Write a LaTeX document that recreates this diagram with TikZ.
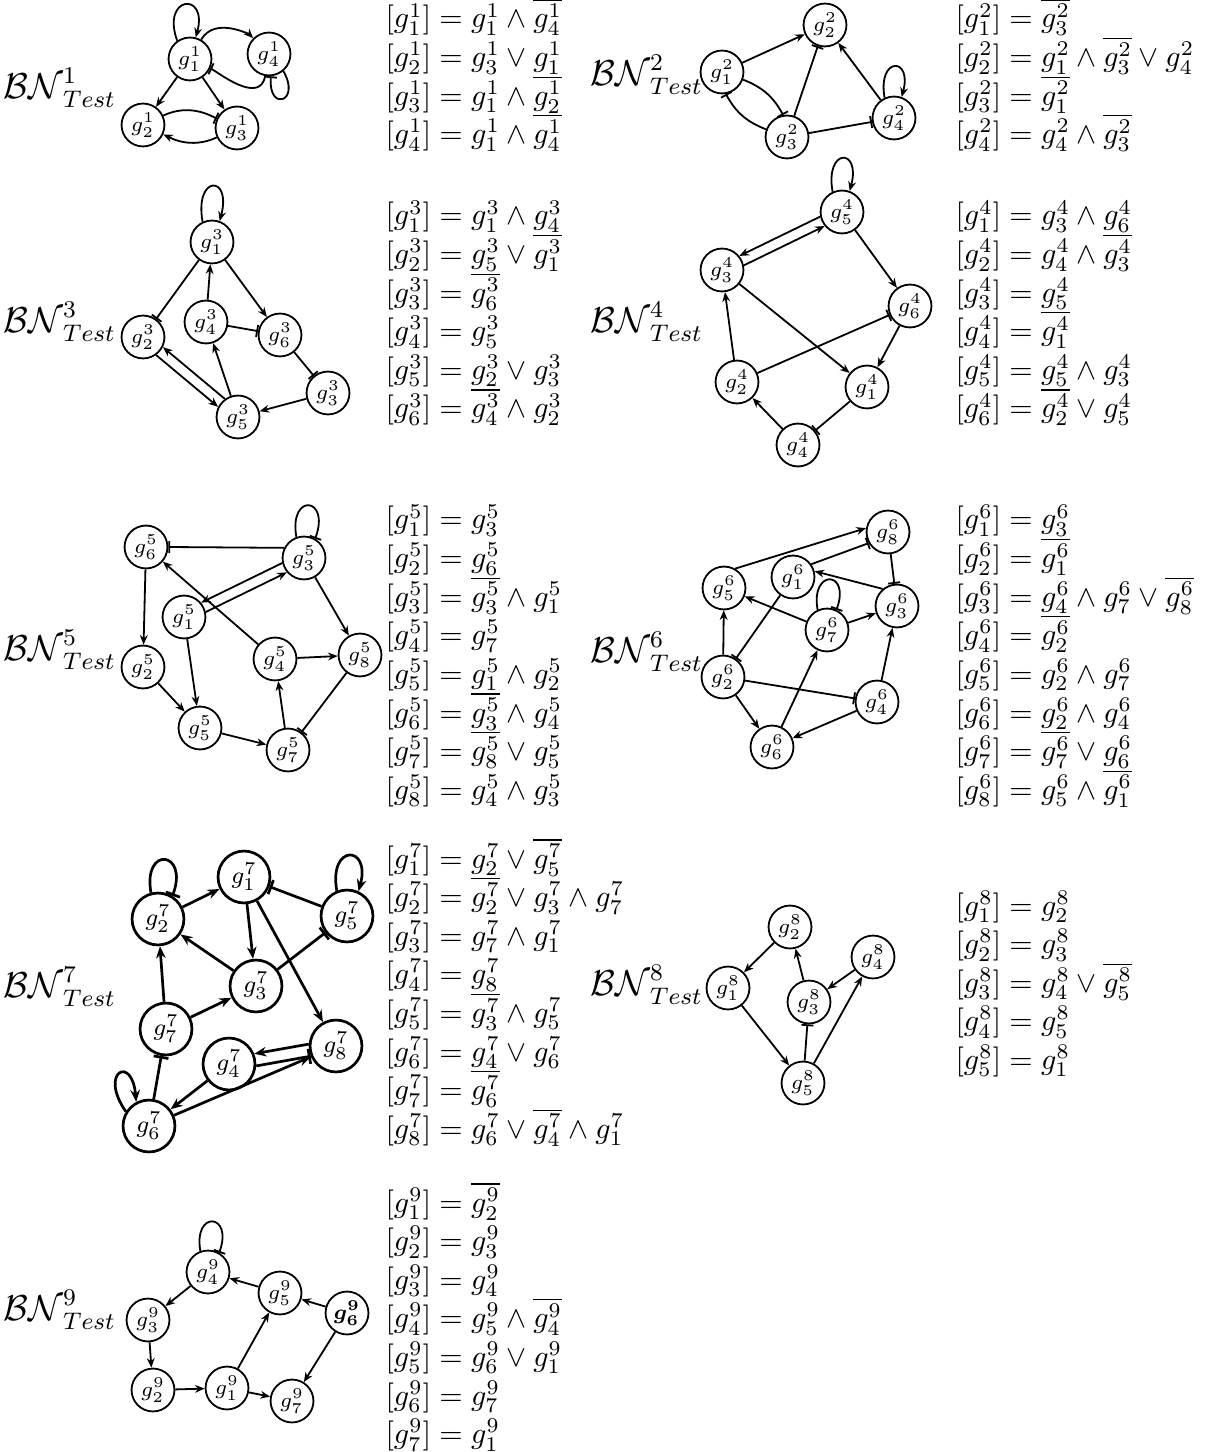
\documentclass[tikz,border=0pt]{standalone}
\usepackage{amsmath}
\usepackage{tikz}
\usetikzlibrary{arrows.meta}

\tikzset{
  gene/.style={circle, draw, line width=0.6pt, minimum size=14.3pt, inner sep=0pt, font=\scriptsize},
  biggene/.style={gene, line width=0.9pt, minimum size=17.3pt, font=\footnotesize},
  act/.style={-{Stealth[length=3.2pt, width=2.6pt]}, line width=0.6pt},
  inh/.style={-{Bar[width=4pt]}, line width=0.6pt},
  bigact/.style={-{Stealth[length=4pt, width=3.2pt]}, line width=0.9pt},
  biginh/.style={-{Bar[width=5pt]}, line width=0.9pt},
  eqn/.style={anchor=base west, inner sep=0pt},
  bnlabel/.style={anchor=west, inner sep=0pt, font=\large},
}

\begin{document}
\begin{tikzpicture}[x=0.33333pt, y=0.33333pt]
  \useasboundingbox (0,0) rectangle (1205,-1452);

  % BN 1
  \begin{scope}[name prefix=bnA-]
    \node[bnlabel] (lbl) at (3,-88) {$\mathcal{BN}^{1}_{Test}$};
    \node[gene] (g1) at (190,-59) {$g_1^1$};
    \node[gene] (g4) at (269,-54) {$g_4^1$};
    \node[gene] (g2) at (143,-125) {$g_2^1$};
    \node[gene] (g3) at (237,-128) {$g_3^1$};
    \draw[act] (g1.125) to[out=110, in=75, distance=16pt] (g1.75);
    \draw[act] (g1) to[out=60, in=135] (g4);
    \draw[inh] (g4) to[out=-100, in=-25] (g1);
    \draw[inh] (g4.-50) to[out=-60, in=-95, distance=12pt] (g4.-85);
    \draw[act] (g1) -- (g2);
    \draw[act] (g1) -- (g3);
    \draw[inh] (g2) to[out=25, in=155] (g3);
    \draw[act] (g3) to[out=-155, in=-25] (g2);
    \foreach \eq [count=\r from 0] in {
      {[g_1^1] = g_1^1 \wedge \overline{g_4^1}},
      {[g_2^1] = g_3^1 \vee g_1^1},
      {[g_3^1] = g_1^1 \wedge \overline{g_2^1}},
      {[g_4^1] = g_1^1 \wedge \overline{g_4^1}}}
      \node[eqn] (e\r) at (385,{-(28+38.6*\r)}) {$\eq$};
  \end{scope}

  % BN 2
  \begin{scope}[name prefix=bnB-]
    \node[bnlabel] (lbl) at (590,-75) {$\mathcal{BN}^{2}_{Test}$};
    \node[gene] (g1) at (722,-72) {$g_1^2$};
    \node[gene] (g2) at (825,-25) {$g_2^2$};
    \node[gene] (g3) at (787,-137) {$g_3^2$};
    \node[gene] (g4) at (894,-118) {$g_4^2$};
    \draw[act] (g1) -- (g2);
    \draw[inh] (g3) -- (g2);
    \draw[act] (g4) -- (g2);
    \draw[act] (g4.115) to[out=100, in=75, distance=14pt] (g4.70);
    \draw[inh] (g3) -- (g4);
    \draw[inh] (g1.-20) to[bend left=20] (g3.100);
    \draw[inh] (g3.160) to[bend left=20] (g1.-80);
    \foreach \eq [count=\r from 0] in {
      {[g_1^2] = \overline{g_3^2}},
      {[g_2^2] = g_1^2 \wedge \overline{g_3^2} \vee g_4^2},
      {[g_3^2] = \overline{g_1^2}},
      {[g_4^2] = g_4^2 \wedge \overline{g_3^2}}}
      \node[eqn] (e\r) at (955,{-(28+38.6*\r)}) {$\eq$};
  \end{scope}

  % BN 3
  \begin{scope}[name prefix=bnC-]
    \node[bnlabel] (lbl) at (3,-322) {$\mathcal{BN}^{3}_{Test}$};
    \node[gene] (g1) at (212,-242) {$g_1^3$};
    \node[gene] (g2) at (143,-337) {$g_2^3$};
    \node[gene] (g4) at (206,-322) {$g_4^3$};
    \node[gene] (g6) at (280,-335) {$g_6^3$};
    \node[gene] (g3) at (328,-393) {$g_3^3$};
    \node[gene] (g5) at (238,-417) {$g_5^3$};
    \draw[act] (g1.115) to[out=100, in=75, distance=16pt] (g1.70);
    \draw[inh] (g1) -- (g2);
    \draw[act] (g4) -- (g1);
    \draw[act] (g1) -- (g6);
    \draw[inh] (g4) -- (g6);
    \draw[inh] (g6) -- (g3);
    \draw[act] (g3) -- (g5);
    \draw[act] (g5) -- (g4);
    \draw[act] (g5.126) -- (g2.-27);
    \draw[act] (g2.-54) -- (g5.153);
    \foreach \eq [count=\r from 0] in {
      {[g_1^3] = g_1^3 \wedge g_4^3},
      {[g_2^3] = g_5^3 \vee \overline{g_1^3}},
      {[g_3^3] = \overline{g_6^3}},
      {[g_4^3] = g_5^3},
      {[g_5^3] = g_2^3 \vee g_3^3},
      {[g_6^3] = \overline{g_4^3} \wedge g_2^3}}
      \node[eqn] (e\r) at (385,{-(225+38.6*\r)}) {$\eq$};
  \end{scope}

  % BN 4
  \begin{scope}[name prefix=bnD-]
    \node[bnlabel] (lbl) at (590,-322) {$\mathcal{BN}^{4}_{Test}$};
    \node[gene] (g5) at (842,-212) {$g_5^4$};
    \node[gene] (g3) at (722,-270) {$g_3^4$};
    \node[gene] (g6) at (910,-306) {$g_6^4$};
    \node[gene] (g2) at (737,-382) {$g_2^4$};
    \node[gene] (g1) at (867,-387) {$g_1^4$};
    \node[gene] (g4) at (798,-445) {$g_4^4$};
    \draw[act] (g5.115) to[out=100, in=75, distance=15pt] (g5.70);
    \draw[act] (g5.192) -- (g3.39);
    \draw[act] (g3.12) -- (g5.219);
    \draw[act] (g5) -- (g6);
    \draw[act] (g3) -- (g1);
    \draw[act] (g2) -- (g3);
    \draw[inh] (g2) -- (g6);
    \draw[act] (g6) -- (g1);
    \draw[inh] (g1) -- (g4);
    \draw[act] (g4) -- (g2);
    \foreach \eq [count=\r from 0] in {
      {[g_1^4] = g_3^4 \wedge g_6^4},
      {[g_2^4] = g_4^4 \wedge \overline{g_3^4}},
      {[g_3^4] = g_5^4},
      {[g_4^4] = \overline{g_1^4}},
      {[g_5^4] = g_5^4 \wedge g_3^4},
      {[g_6^4] = \overline{g_2^4} \vee g_5^4}}
      \node[eqn] (e\r) at (955,{-(225+38.6*\r)}) {$\eq$};
  \end{scope}

  % BN 5
  \begin{scope}[name prefix=bnE-]
    \node[bnlabel] (lbl) at (3,-650) {$\mathcal{BN}^{5}_{Test}$};
    \node[gene] (g6) at (146,-547) {$g_6^5$};
    \node[gene] (g3) at (304,-558) {$g_3^5$};
    \node[gene] (g1) at (184,-617) {$g_1^5$};
    \node[gene] (g2) at (143,-667) {$g_2^5$};
    \node[gene] (g4) at (275,-659) {$g_4^5$};
    \node[gene] (g8) at (360,-655) {$g_8^5$};
    \node[gene] (g5) at (200,-728) {$g_5^5$};
    \node[gene] (g7) at (288,-750) {$g_7^5$};
    \draw[inh] (g3.110) to[out=100, in=70, distance=15pt] (g3.60);
    \draw[inh] (g3.153) -- (g6.east);
    \draw[act] (g3.193) -- (g1.40);
    \draw[act] (g1.13) -- (g3.220);
    \draw[act] (g3) -- (g8);
    \draw[act] (g6) -- (g2);
    \draw[act] (g4) -- (g6);
    \draw[act] (g1) -- (g5);
    \draw[act] (g2) -- (g5);
    \draw[act] (g4) -- (g8);
    \draw[inh] (g8) -- (g7);
    \draw[act] (g5) -- (g7);
    \draw[act] (g7) -- (g4);
    \foreach \eq [count=\r from 0] in {
      {[g_1^5] = g_3^5},
      {[g_2^5] = g_6^5},
      {[g_3^5] = \overline{g_3^5} \wedge g_1^5},
      {[g_4^5] = g_7^5},
      {[g_5^5] = g_1^5 \wedge g_2^5},
      {[g_6^5] = \overline{g_3^5} \wedge g_4^5},
      {[g_7^5] = \overline{g_8^5} \vee g_5^5},
      {[g_8^5] = g_4^5 \wedge g_3^5}}
      \node[eqn] (e\r) at (385,{-(529+38.6*\r)}) {$\eq$};
  \end{scope}

  % BN 6
  \begin{scope}[name prefix=bnF-]
    \node[bnlabel] (lbl) at (590,-652) {$\mathcal{BN}^{6}_{Test}$};
    \node[gene] (g8) at (888,-532) {$g_8^6$};
    \node[gene] (g1) at (793,-577) {$g_1^6$};
    \node[gene] (g5) at (724,-588) {$g_5^6$};
    \node[gene] (g3) at (897,-606) {$g_3^6$};
    \node[gene] (g7) at (827,-630) {$g_7^6$};
    \node[gene] (g2) at (723,-677) {$g_2^6$};
    \node[gene] (g4) at (877,-702) {$g_4^6$};
    \node[gene] (g6) at (772,-747) {$g_6^6$};
    \draw[act] (g5.60) -- (g8.170);
    \draw[inh] (g1.35) -- (g8.210);
    \draw[inh] (g8) -- (g3);
    \draw[act] (g3.130) -- (g1.15);
    \draw[inh] (g7.115) to[out=100, in=70, distance=14pt] (g7.65);
    \draw[act] (g7) -- (g5);
    \draw[act] (g7) -- (g3);
    \draw[inh] (g1) -- (g2);
    \draw[act] (g2) -- (g5);
    \draw[act] (g6) -- (g7);
    \draw[inh] (g2) -- (g4);
    \draw[act] (g2) -- (g6);
    \draw[act] (g4) -- (g6);
    \draw[act] (g4) -- (g3);
    \foreach \eq [count=\r from 0] in {
      {[g_1^6] = g_3^6},
      {[g_2^6] = \overline{g_1^6}},
      {[g_3^6] = g_4^6 \wedge g_7^6 \vee \overline{g_8^6}},
      {[g_4^6] = \overline{g_2^6}},
      {[g_5^6] = g_2^6 \wedge g_7^6},
      {[g_6^6] = g_2^6 \wedge g_4^6},
      {[g_7^6] = \overline{g_7^6} \vee g_6^6},
      {[g_8^6] = g_5^6 \wedge \overline{g_1^6}}}
      \node[eqn] (e\r) at (955,{-(529+38.6*\r)}) {$\eq$};
  \end{scope}

  % BN 7
  \begin{scope}[name prefix=bnG-]
    \node[bnlabel] (lbl) at (3,-987) {$\mathcal{BN}^{7}_{Test}$};
    \node[biggene] (g1) at (244,-877) {$g_1^7$};
    \node[biggene] (g2) at (158,-919) {$g_2^7$};
    \node[biggene] (g5) at (347,-916) {$g_5^7$};
    \node[biggene] (g3) at (256,-986) {$g_3^7$};
    \node[biggene] (g7) at (166,-1029) {$g_7^7$};
    \node[biggene] (g8) at (336,-1046) {$g_8^7$};
    \node[biggene] (g4) at (229,-1064) {$g_4^7$};
    \node[biggene] (g6) at (149,-1126) {$g_6^7$};
    \draw[biginh] (g2.105) to[out=100, in=70, distance=16pt] (g2.58);
    \draw[bigact] (g2) -- (g1);
    \draw[biginh] (g5) -- (g1);
    \draw[bigact] (g5.112) to[out=100, in=75, distance=16pt] (g5.65);
    \draw[bigact] (g1) -- (g3);
    \draw[bigact] (g1) -- (g8);
    \draw[bigact] (g3) -- (g2);
    \draw[biginh] (g3) -- (g5);
    \draw[bigact] (g7) -- (g2);
    \draw[bigact] (g7) -- (g3);
    \draw[bigact] (g8.176) -- (g4.22);
    \draw[biginh] (g4.-4) -- (g8.202);
    \draw[bigact] (g4) -- (g6);
    \draw[bigact] (g6) -- (g8);
    \draw[biginh] (g6) -- (g7);
    \draw[bigact] (g6.148) to[out=125, in=95, distance=16pt] (g6.118);
    \foreach \eq [count=\r from 0] in {
      {[g_1^7] = g_2^7 \vee \overline{g_5^7}},
      {[g_2^7] = \overline{g_2^7} \vee g_3^7 \wedge g_7^7},
      {[g_3^7] = g_7^7 \wedge g_1^7},
      {[g_4^7] = g_8^7},
      {[g_5^7] = \overline{g_3^7} \wedge g_5^7},
      {[g_6^7] = g_4^7 \vee g_6^7},
      {[g_7^7] = \overline{g_6^7}},
      {[g_8^7] = g_6^7 \vee \overline{g_4^7} \wedge g_1^7}}
      \node[eqn] (e\r) at (385,{-(868+38.6*\r)}) {$\eq$};
  \end{scope}

  % BN 8
  \begin{scope}[name prefix=bnH-]
    \node[bnlabel] (lbl) at (590,-985) {$\mathcal{BN}^{8}_{Test}$};
    \node[gene] (g2) at (790,-927) {$g_2^8$};
    \node[gene] (g4) at (873,-957) {$g_4^8$};
    \node[gene] (g1) at (728,-988) {$g_1^8$};
    \node[gene] (g3) at (809,-1002) {$g_3^8$};
    \node[gene] (g5) at (803,-1083) {$g_5^8$};
    \draw[act] (g2) -- (g1);
    \draw[act] (g3) -- (g2);
    \draw[act] (g4) -- (g3);
    \draw[act] (g1) -- (g5);
    \draw[inh] (g5) -- (g3);
    \draw[act] (g5) -- (g4);
    \foreach \eq [count=\r from 0] in {
      {[g_1^8] = g_2^8},
      {[g_2^8] = g_3^8},
      {[g_3^8] = g_4^8 \vee \overline{g_5^8}},
      {[g_4^8] = g_5^8},
      {[g_5^8] = g_1^8}}
      \node[eqn] (e\r) at (955,{-(915+38.6*\r)}) {$\eq$};
  \end{scope}

  % BN 9
  \begin{scope}[name prefix=bnI-]
    \node[bnlabel] (lbl) at (3,-1310) {$\mathcal{BN}^{9}_{Test}$};
    \node[gene] (g4) at (208,-1272) {$g_4^9$};
    \node[gene] (g5) at (280,-1293) {$g_5^9$};
    \node[gene] (g6) at (347,-1313) {$\boldsymbol{g_6^9}$};
    \node[gene] (g3) at (148,-1320) {$g_3^9$};
    \node[gene] (g2) at (153,-1390) {$g_2^9$};
    \node[gene] (g1) at (227,-1388) {$g_1^9$};
    \node[gene] (g7) at (292,-1401) {$g_7^9$};
    \draw[inh] (g4.110) to[out=100, in=70, distance=14pt] (g4.60);
    \draw[act] (g5) -- (g4);
    \draw[act] (g4) -- (g3);
    \draw[act] (g3) -- (g2);
    \draw[act] (g2) -- (g1);
    \draw[act] (g1) -- (g5);
    \draw[act] (g1) -- (g7);
    \draw[act] (g6) -- (g5);
    \draw[act] (g6) -- (g7);
    \foreach \eq [count=\r from 0] in {
      {[g_1^9] = \overline{g_2^9}},
      {[g_2^9] = g_3^9},
      {[g_3^9] = g_4^9},
      {[g_4^9] = g_5^9 \wedge \overline{g_4^9}},
      {[g_5^9] = g_6^9 \vee g_1^9},
      {[g_6^9] = g_7^9},
      {[g_7^9] = g_1^9}}
      \node[eqn] (e\r) at (385,{-(1212+38.6*\r)}) {$\eq$};
  \end{scope}
\end{tikzpicture}
\end{document}
